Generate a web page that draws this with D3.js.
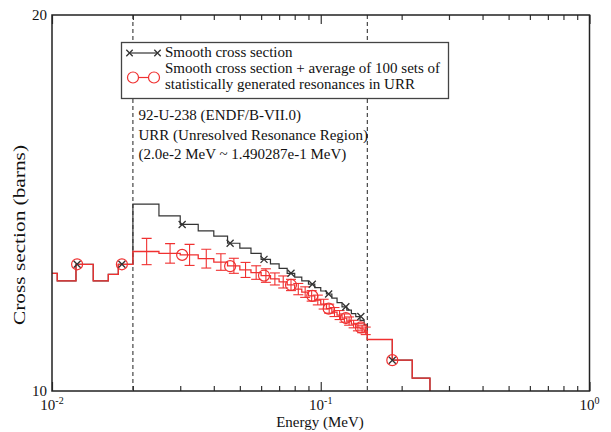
<!DOCTYPE html>
<html>
<head>
<meta charset="utf-8">
<script src="https://cdn.jsdelivr.net/npm/d3@7"></script>
<style>
  html, body { margin: 0; padding: 0; background: #fff; }
  svg { display: block; }
  text { font-family: "Times New Roman", "Liberation Serif", Times, serif; fill: #111; }
</style>
</head>
<body>
<svg id="chart" width="611" height="432"></svg>
<script>
// ---------------- data ----------------
// energies in MeV, cross sections in barns
const energyLow = [0.0100, 0.01046, 0.01228, 0.01424, 0.0162, 0.01765];
const xsLow     = [13.13, 12.93, 13.37, 12.93, 13.10, 13.37];

const energyURR = [0.020, 0.025, 0.030, 0.035, 0.040, 0.045, 0.050, 0.055, 0.060,
                   0.065, 0.070, 0.075, 0.080, 0.085, 0.090, 0.095, 0.100, 0.105,
                   0.110, 0.115, 0.120, 0.125, 0.130, 0.135, 0.140, 0.145];
const smoothURR = [14.97, 14.66, 14.43, 14.26, 14.12, 13.93, 13.80, 13.66, 13.50,
                   13.38, 13.26, 13.13, 13.03, 12.93, 12.84, 12.75, 12.66, 12.58,
                   12.47, 12.35, 12.24, 12.15, 12.06, 11.98, 11.88, 11.76];
const avgURR    = [13.71, 13.66, 13.62, 13.52, 13.43, 13.33, 13.22, 13.15, 13.07,
                   12.98, 12.90, 12.82, 12.71, 12.63, 12.53, 12.42, 12.31, 12.19,
                   12.10, 12.02, 11.94, 11.86, 11.78, 11.70, 11.65, 11.60];
const avgErr    = [0.35, 0.26, 0.28, 0.25, 0.22, 0.20, 0.20, 0.18, 0.18,
                   0.16, 0.16, 0.15, 0.15, 0.14, 0.14, 0.13, 0.13, 0.12,
                   0.12, 0.12, 0.11, 0.11, 0.10, 0.10, 0.10, 0.10];

const energyHigh = [0.149, 0.1846, 0.219, 0.2549, 0.32];
const xsHigh     = [11.37, 10.82, 10.34, 9.50, 9.40];

// symbol positions
const markE      = [0.0124, 0.0182, 0.0305, 0.046, 0.0615, 0.0775, 0.093, 0.107, 0.124, 0.141, 0.1846];
const markSmooth = [13.37, 13.37, 14.43, 13.93, 13.50, 13.13, 12.84, 12.58, 12.24, 11.98, 10.82];
const markAvg    = [13.37, 13.37, 13.62, 13.32, 13.07, 12.82, 12.53, 12.19, 11.94, 11.69, 10.82];

const urrBounds = [0.02, 0.1490287];
const xTickMajor = [0.01, 0.1, 1];
const xTickLabels = [["10", "-2"], ["10", "-1"], ["10", "0"]];
const yTickValues = [10, 20];

const legendLabels = ["Smooth cross section",
                      "Smooth cross section + average of 100 sets of",
                      "statistically generated resonances in URR"];
const noteLines = ["92-U-238 (ENDF/B-VII.0)",
                   "URR (Unresolved Resonance Region)",
                   "(2.0e-2 MeV ~ 1.490287e-1 MeV)"];

// ---------------- drawing ----------------
const svg = d3.select("#chart");
const L = 52, R = 589.5, T = 15, B = 391;
const x = d3.scaleLog().domain([0.01, 1]).range([L, R]);
const y = d3.scaleLinear().domain([10, 20]).range([B, T]);

const BLACK = "#333333", RED = "#f03030";
const FONT = "'Times New Roman', 'Liberation Serif', Times, serif";

svg.append("defs").append("clipPath").attr("id", "clip")
  .append("rect").attr("x", L).attr("y", T).attr("width", R - L).attr("height", B - T);

const plot = svg.append("g").attr("clip-path", "url(#clip)");

// minor ticks
const minor = [];
for (let d = -2; d < 0; d++) for (let k = 2; k <= 9; k++) minor.push(k * Math.pow(10, d));

function ticks(axisFn, pos, values, len) {
  const g = svg.append("g").attr("transform", `translate(0,${pos})`);
  g.call(axisFn(x).tickValues(values).tickSizeInner(-len).tickSizeOuter(0).tickFormat(""));
  g.select(".domain").remove();
  g.selectAll(".tick line").attr("stroke", "#333").attr("stroke-width", 1.2);
}
ticks(d3.axisBottom, B, minor, 5);
ticks(d3.axisBottom, B, xTickMajor, 9);
ticks(d3.axisTop, T, minor, 5);
ticks(d3.axisTop, T, xTickMajor, 9);

// URR dashed boundaries
plot.selectAll("line.urr").data(urrBounds).join("line")
  .attr("x1", d => x(d)).attr("x2", d => x(d)).attr("y1", T).attr("y2", B)
  .attr("stroke", "#333").attr("stroke-width", 1.1).attr("stroke-dasharray", "4,3");

// series
const smoothPts = [];
energyLow.forEach((e, i) => smoothPts.push([e, xsLow[i]]));
energyURR.forEach((e, i) => smoothPts.push([e, smoothURR[i]]));
energyHigh.forEach((e, i) => smoothPts.push([e, xsHigh[i]]));
const avgPts = [];
energyLow.forEach((e, i) => avgPts.push([e, xsLow[i]]));
energyURR.forEach((e, i) => avgPts.push([e, avgURR[i]]));
energyHigh.forEach((e, i) => avgPts.push([e, xsHigh[i]]));

const line = d3.line().x(d => x(d[0])).y(d => y(d[1])).curve(d3.curveStepAfter);

plot.append("path").datum(smoothPts).attr("d", line)
  .attr("fill", "none").attr("stroke", BLACK).attr("stroke-width", 1.2);

// red error bars at bin centres
const binMid = energyURR.map((e, i) => {
  const next = i < energyURR.length - 1 ? energyURR[i + 1] : urrBounds[1];
  return (e + next) / 2;
});
const eb = plot.append("g").attr("stroke", RED).attr("stroke-width", 1.1);
binMid.forEach((e, i) => {
  const cx = x(e), y1 = y(avgURR[i] - avgErr[i]), y2 = y(avgURR[i] + avgErr[i]);
  eb.append("line").attr("x1", cx).attr("x2", cx).attr("y1", y1).attr("y2", y2);
  eb.append("line").attr("x1", cx - 5).attr("x2", cx + 5).attr("y1", y1).attr("y2", y1);
  eb.append("line").attr("x1", cx - 5).attr("x2", cx + 5).attr("y1", y2).attr("y2", y2);
});

plot.append("path").datum(avgPts).attr("d", line)
  .attr("fill", "none").attr("stroke", RED).attr("stroke-width", 1.3);

// symbols
function drawX(g, cx, cy, s) {
  g.append("path").attr("d", `M${cx - s},${cy - s}L${cx + s},${cy + s}M${cx - s},${cy + s}L${cx + s},${cy - s}`)
    .attr("stroke", BLACK).attr("stroke-width", 1.3).attr("fill", "none");
}
const sym = plot.append("g");
markE.forEach((e, i) => drawX(sym, x(e), y(markSmooth[i]), 3.5));
markE.forEach((e, i) => {
  sym.append("circle").attr("cx", x(e)).attr("cy", y(markAvg[i])).attr("r", 5.5)
    .attr("fill", "none").attr("stroke", RED).attr("stroke-width", 1.2);
});

// frame
svg.append("rect").attr("x", L).attr("y", T).attr("width", R - L).attr("height", B - T)
  .attr("fill", "none").attr("stroke", "#222").attr("stroke-width", 1.5);

// tick labels
const FS = 15;
yTickValues.forEach(v => {
  svg.append("text").attr("x", 47).attr("y", y(v) + 5).attr("text-anchor", "end")
    .attr("font-family", FONT).attr("font-size", FS).text(v);
});
xTickMajor.forEach((v, i) => {
  const t = svg.append("text").attr("x", x(v)).attr("y", 410).attr("text-anchor", "middle")
    .attr("font-family", FONT).attr("font-size", FS);
  t.append("tspan").text(xTickLabels[i][0]);
  t.append("tspan").attr("dy", -6).attr("font-size", 10).text(xTickLabels[i][1]);
});

// axis titles
svg.append("text").attr("x", 320).attr("y", 427).attr("text-anchor", "middle")
  .attr("font-family", FONT).attr("font-size", FS).text("Energy (MeV)");
svg.append("text").attr("transform", "translate(25,235) rotate(-90)").attr("text-anchor", "middle")
  .attr("font-family", FONT).attr("font-size", 16)
  .attr("textLength", 180).attr("lengthAdjust", "spacingAndGlyphs")
  .text("Cross section (barns)");

// legend
const lg = svg.append("g");
lg.append("rect").attr("x", 121.5).attr("y", 42.5).attr("width", 327).attr("height", 56)
  .attr("fill", "#fff").attr("stroke", "#444").attr("stroke-width", 1.3);
lg.append("line").attr("x1", 129).attr("x2", 158).attr("y1", 53).attr("y2", 53)
  .attr("stroke", BLACK).attr("stroke-width", 1.2);
drawX(lg, 129.5, 53, 3.2); drawX(lg, 157.5, 53, 3.2);
lg.append("line").attr("x1", 133).attr("x2", 154).attr("y1", 77.5).attr("y2", 77.5)
  .attr("stroke", RED).attr("stroke-width", 1.2);
[133, 154].forEach(cx => lg.append("circle").attr("cx", cx).attr("cy", 77.5).attr("r", 5.5)
  .attr("fill", "#fff").attr("stroke", RED).attr("stroke-width", 1.2));
[57.3, 73.3, 89.3].forEach((by, i) => {
  lg.append("text").attr("x", 165).attr("y", by).attr("font-family", FONT)
    .attr("font-size", 15).text(legendLabels[i]);
});

// annotation
[120, 139.5, 159].forEach((by, i) => {
  svg.append("text").attr("x", 138.5).attr("y", by).attr("font-family", FONT)
    .attr("font-size", 15).text(noteLines[i]);
});
</script>
</body>
</html>
